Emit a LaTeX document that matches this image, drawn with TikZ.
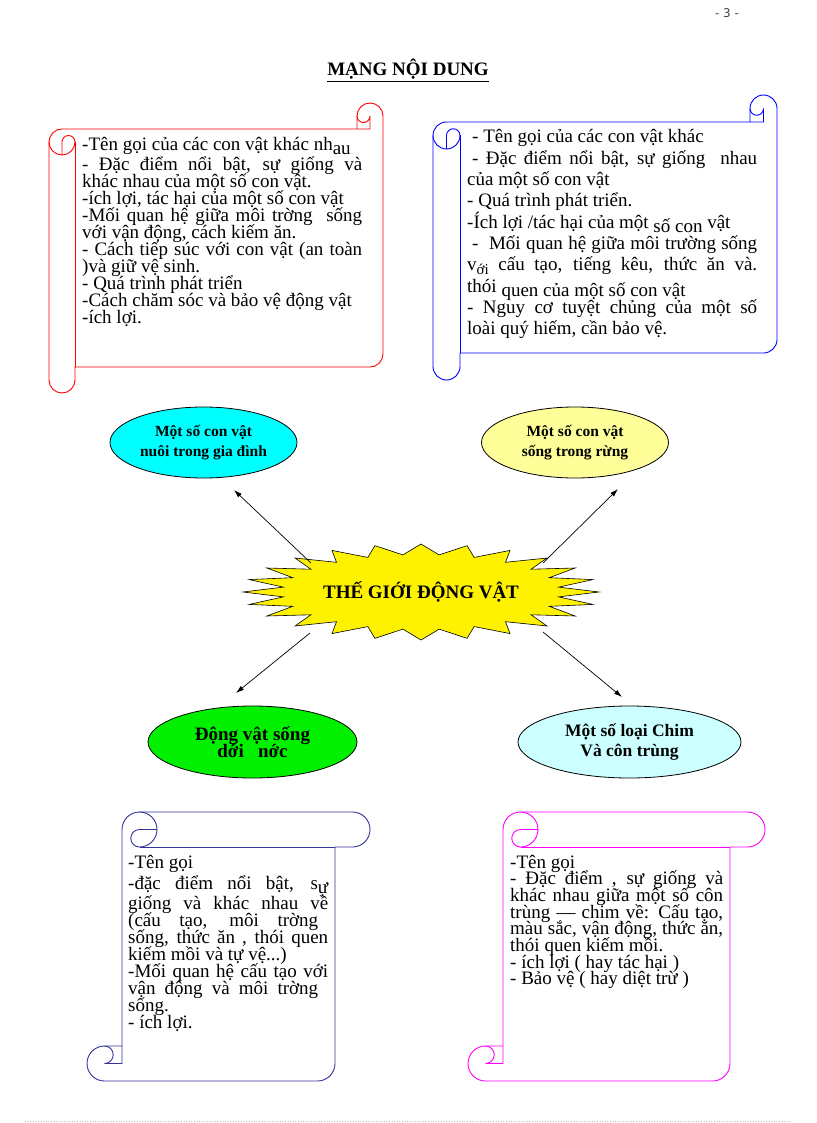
\documentclass[tikz,border=0pt]{standalone}
\usepackage{fontspec}
\setmainfont{Liberation Serif}
\newfontfamily\pagenofont{DejaVu Sans}
\usetikzlibrary{shapes.geometric,arrows.meta}

\definecolor{scrollred}{RGB}{255,0,0}
\definecolor{scrollblue}{RGB}{0,0,255}
\definecolor{scrollnavy}{RGB}{51,51,153}
\definecolor{scrollpink}{RGB}{255,0,255}
\definecolor{petcyan}{RGB}{0,255,255}
\definecolor{forestyellow}{RGB}{255,255,153}
\definecolor{watergreen}{RGB}{0,240,0}
\definecolor{birdcyan}{RGB}{204,255,255}

\tolerance=9999
\hbadness=10000
\normallineskiplimit=-100pt
\lineskiplimit=-100pt

% the font's own word spaces, and a line stretched to the full text width
\newcommand{\plainspaces}{\spaceskip=0pt\xspaceskip=0pt\relax}
\newcommand{\fillline}[1]{\makebox[\hsize][s]{#1}}

% scroll outline, top left corner at the origin: width, height, roll size
\newcommand{\scrollshape}[3]{%
  \pgfmathsetmacro{\scrW}{#1}\pgfmathsetmacro{\scrH}{#2}%
  \pgfmathsetmacro{\scrR}{#3}\pgfmathsetmacro{\scrRh}{#3/2}\pgfmathsetmacro{\scrRq}{#3/4}%
  \draw (0,1.5*\scrR) arc[start angle=180,delta angle=90,radius=\scrRh]
    -- (\scrW-\scrR,\scrR) -- (\scrW-\scrR,\scrRh)
    arc[start angle=180,delta angle=180,radius=\scrRh]
    -- (\scrW,\scrH-1.5*\scrR) arc[start angle=0,delta angle=90,radius=\scrRh]
    -- (\scrR,\scrH-\scrR) -- (\scrR,\scrH-\scrRh)
    arc[start angle=0,delta angle=180,radius=\scrRh] -- cycle;
  \draw (\scrW-\scrR,\scrR) -- (\scrW-\scrRh,\scrR) -- (\scrW-\scrRh,\scrRh)
    arc[start angle=0,delta angle=180,radius=\scrRq];
  \draw (\scrRh,2*\scrR) -- (\scrRh,1.5*\scrR)
    arc[start angle=180,delta angle=180,radius=\scrRq]
    arc[start angle=0,delta angle=180,radius=\scrRh];
  \draw (\scrR,1.5*\scrR) -- (\scrR,\scrH-\scrR);
}

\begin{document}
\begin{tikzpicture}[x=1pt,y=-1pt,
  boxtext/.style={inner sep=0pt,anchor=base west,font=\fontsize{19}{17}\selectfont},
  ovaltext/.style={align=center,font=\bfseries\fontsize{15.5}{20}\selectfont},
  oval/.style={ellipse,draw,line width=0.8pt,inner sep=0pt},
  arr/.style={line width=0.7pt,-{Latex[length=8pt,width=5pt]}}]
\useasboundingbox (0,0) rectangle (816,1123);

\node[font=\pagenofont\fontsize{12}{14}\selectfont,text=black!75] (pageno) at (727,13) {- 3 -};
\node[font=\bfseries\fontsize{19}{22}\selectfont,anchor=base] (title) at (408,76) {\underline{MẠNG NỘI DUNG}};

% the four scrolls
\begin{scope}[shift={(49,103)},color=scrollred,line width=0.9pt]
  \scrollshape{334}{290}{26}
\end{scope}
\begin{scope}[shift={(433,95)},color=scrollblue,line width=0.9pt]
  \scrollshape{344}{285}{27}
\end{scope}
\begin{scope}[shift={(87,812)},cm={0,-1,-1,0,(0,0)},color=scrollnavy,line width=0.9pt]
  \scrollshape{269}{283}{35}
\end{scope}
\begin{scope}[shift={(468,812)},cm={0,-1,-1,0,(0,0)},color=scrollpink,line width=0.9pt]
  \scrollshape{269}{297}{35}
\end{scope}

\node[boxtext,text width=280] (pettext) at (82,151) {\plainspaces
-Tên gọi của các con vật khác nh\raisebox{-4pt}{au}\\[3pt]
\fillline{- Đặc điểm nổi bật, sự giống và}\\
khác nhau của một số con vật.\\
-ích lợi, tác hại của một số con vật\\
\fillline{-Mối quan hệ giữa môi trờng \ sống}\\
với vận động, cách kiếm ăn.\\
\fillline{- Cách tiếp súc với con vật (an toàn}\\
)và giữ vệ sinh.\\
- Quá trình phát triển\\
-Cách chăm sóc và bảo vệ động vật\\
-ích lợi.};

\node[boxtext,text width=290,font=\fontsize{19}{21.3}\selectfont] (foresttext) at (467,143) {\plainspaces
\hspace*{5pt}- Tên gọi của các con vật khác\\
\fillline{\hspace{5pt}- Đặc điểm nổi bật, sự giống \ nhau}\\
của một số con vật\\
- Quá trình phát triển.\\
-Ích lợi /tác hại của một \raisebox{-4pt}{số con} vật\\
\fillline{\hspace{5pt}- \ Mối quan hệ giữa môi trường sống}\\
\fillline{v\raisebox{-4pt}{\fontsize{15}{15}\selectfont ới} cấu tạo, tiếng kêu, thức ăn và.}\\
thói \raisebox{-4pt}{quen của một số con vật}\\
\fillline{- Nguy cơ tuyệt chủng của một số}\\
loài quý hiếm, cần bảo vệ.};

\node[boxtext,text width=200] (watertext) at (128,868) {\plainspaces
-Tên gọi\\[4.5pt]
\fillline{-đặc điểm nổi bật, s\raisebox{-4pt}{ự}}\\[3pt]
\fillline{giống và khác nhau về}\\
\fillline{(cấu tạo, môi trờng\hspace{10pt}}\\
\fillline{sống, thức ăn , thói quen}\\
kiếm mồi và tự vệ...)\\
\fillline{-Mối quan hệ cấu tạo với}\\
\fillline{vận động và môi trờng\hspace{10pt}}\\
sống.\\
- ích lợi.};

\node[boxtext,text width=213,font=\fontsize{19}{16.7}\selectfont] (birdtext) at (510,868) {\plainspaces
-Tên gọi\\
\fillline{- Đặc điểm , sự giống và}\\
\fillline{khác nhau giữa một số côn}\\
\fillline{trùng — chim về: Cấu tạo,}\\
\fillline{màu sắc, vận động, thức ăn,}\\
thói quen kiếm mồi.\\
- ích lợi ( hay tác hại )\\
- Bảo vệ ( hay diệt trừ )};

% centre star
\begin{scope}[shift={(421,592)}]
  \draw[fill=yellow,line width=0.6pt] plot[samples at={0,...,47}]
    ({178*(1-0.22*mod(\x,2))*cos(7.5*\x)},{48*(1-0.22*mod(\x,2))*sin(7.5*\x)}) -- cycle;
\end{scope}
\node[font=\bfseries\fontsize{19}{20}\selectfont] (world) at (421,592) {THẾ GIỚI ĐỘNG VẬT};

% the four ovals
\node[oval,fill=petcyan,minimum width=187,minimum height=71] (pets) at (203.5,442.5) {};
\node[ovaltext] (petslabel) at (pets) {\plainspaces Một số con vật\\nuôi trong gia đình};
\node[oval,fill=forestyellow,minimum width=187,minimum height=71] (forest) at (575,442.5) {};
\node[ovaltext] (forestlabel) at (forest) {\plainspaces Một số con vật\\sống trong rừng};
\node[oval,fill=watergreen,minimum width=209,minimum height=72] (water) at (252.5,742) {};
\node[ovaltext,font=\bfseries\fontsize{19}{17}\selectfont] (waterlabel) at (water) {\plainspaces Động vật sống\\dới \ \ nớc};
\node[oval,fill=birdcyan,minimum width=223,minimum height=72] (birds) at (629.5,742) {};
\node[ovaltext,font=\bfseries\fontsize{17.5}{20}\selectfont] (birdslabel) at (birds) {\plainspaces Một số loại Chim\\Và côn trùng};

% arrows out of the star
\coordinate (from1) at (311,563);
\coordinate (to1) at (234,490);
\coordinate (from2) at (543,563);
\coordinate (to2) at (618,489);
\coordinate (from3) at (310,633);
\coordinate (to3) at (236,693);
\coordinate (from4) at (543,632);
\coordinate (to4) at (622,697);
\draw[arr] (from1) -- (to1);
\draw[arr] (from2) -- (to2);
\draw[arr] (from3) -- (to3);
\draw[arr] (from4) -- (to4);

% faint page rule at the foot
\draw[dotted,black!25,line width=0.6pt] (25,1121) -- (790,1121);
\end{tikzpicture}
\end{document}
